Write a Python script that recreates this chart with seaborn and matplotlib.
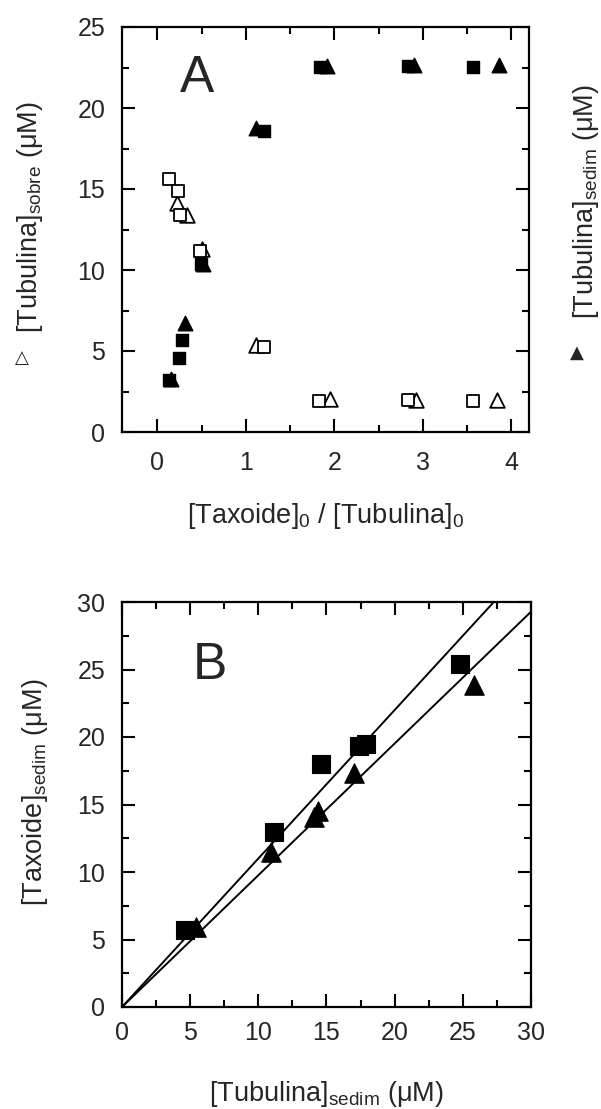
import numpy as np
import pandas as pd
import matplotlib
matplotlib.use("Agg")
import matplotlib.pyplot as plt
import seaborn as sns

# ---------------- Data (panel A) ----------------
# open squares: [Tubulina]_sobre, square series
a_open_sq_x = [0.13, 0.23, 0.26, 0.48, 1.20, 1.83, 2.83, 3.57]
a_open_sq_y = [15.6, 14.9, 13.4, 11.2, 5.25, 1.9, 1.95, 1.9]
# open triangles: [Tubulina]_sobre, triangle series
a_open_tr_x = [0.225, 0.33, 0.505, 1.12, 1.95, 2.92, 3.84]
a_open_tr_y = [14.15, 13.4, 11.3, 5.35, 2.05, 1.95, 1.95]
# filled squares: [Tubulina]_sedim, square series
a_fill_sq_x = [0.13, 0.24, 0.28, 0.49, 1.20, 1.84, 2.83, 3.57]
a_fill_sq_y = [3.2, 4.55, 5.7, 10.4, 18.6, 22.55, 22.6, 22.55]
# filled triangles: [Tubulina]_sedim, triangle series
a_fill_tr_x = [0.15, 0.31, 0.52, 1.12, 1.92, 2.895, 3.86]
a_fill_tr_y = [3.3, 6.7, 10.4, 18.75, 22.6, 22.65, 22.65]

# ---------------- Data (panel B) ----------------
b_sq_x = [4.65, 11.15, 14.6, 17.4, 17.9, 24.8]
b_sq_y = [5.7, 13.0, 18.0, 19.3, 19.5, 25.4]
b_tr_x = [5.4, 10.9, 14.1, 14.4, 17.0, 25.8]
b_tr_y = [5.95, 11.45, 14.1, 14.5, 17.3, 23.85]
b_line_slopes = [1.10, 0.976]
b_line_x = [0, 30]

# ---------------- Style ----------------
sns.set_style("ticks")
plt.rcParams["font.family"] = ["Liberation Sans", "DejaVu Sans"]
plt.rcParams["mathtext.fontset"] = "custom"
plt.rcParams["mathtext.rm"] = "Liberation Sans"
plt.rcParams["mathtext.it"] = "Liberation Sans:italic"
plt.rcParams["axes.linewidth"] = 1.6

W, H = 601, 1109
fig = plt.figure(figsize=(W / 100, H / 100), dpi=100)

def px_axes(l, t, r, b):
    return [l / W, 1 - b / H, (r - l) / W, (b - t) / H]

axA = fig.add_axes(px_axes(122, 27, 529, 432))
axB = fig.add_axes(px_axes(122, 602, 531, 1007))

TICK_FS = 18
LAB_FS = 19.5

def style_axes(ax, xpad, ypad):
    for s in ax.spines.values():
        s.set_visible(True)
        s.set_color("black")
        s.set_linewidth(1.6)
    ax.tick_params(which="both", direction="in", top=True, right=True,
                   color="black", width=1.5)
    ax.tick_params(which="major", length=9.5)
    ax.tick_params(which="minor", length=5)
    ax.tick_params(axis="x", which="major", pad=xpad, labelsize=TICK_FS)
    ax.tick_params(axis="y", which="major", pad=ypad, labelsize=TICK_FS)

# ---------------- Panel A ----------------
msA_sq = 9.0
msA_tr = 10.5
sns.scatterplot(x=a_open_sq_x, y=a_open_sq_y, ax=axA, marker="s", s=msA_sq**2,
                facecolor="white", edgecolor="black", linewidth=1.3, zorder=3)
sns.scatterplot(x=a_open_tr_x, y=a_open_tr_y, ax=axA, marker="^", s=msA_tr**2,
                facecolor="white", edgecolor="black", linewidth=1.3, zorder=2)
sns.scatterplot(x=a_fill_sq_x, y=a_fill_sq_y, ax=axA, marker="s", s=msA_sq**2,
                color="black", edgecolor="black", linewidth=1.0, zorder=3)
sns.scatterplot(x=a_fill_tr_x, y=a_fill_tr_y, ax=axA, marker="^", s=msA_tr**2,
                color="black", edgecolor="black", linewidth=1.0, zorder=2)

axA.set_xlim(-0.4, 4.2)
axA.set_ylim(0, 25)
axA.set_xticks([0, 1, 2, 3, 4])
axA.set_xticks(np.arange(0, 4.01, 0.5), minor=True)
axA.set_yticks(np.arange(0, 26, 5))
axA.set_yticks(np.arange(0, 25.1, 2.5), minor=True)
style_axes(axA, xpad=14, ypad=12)
axA.set_xlabel("[Taxoide]$_0$ / [Tubulina]$_0$", fontsize=LAB_FS)
axA.xaxis.set_label_coords(0.5, -0.17)
axA.set_ylabel("[Tubulina]$_{\\mathrm{sobre}}$ (\u03bcM)", fontsize=LAB_FS)
axA.yaxis.set_label_coords(-0.189, 0.53)
axA.text(0.184, 0.874, "A", transform=axA.transAxes, fontsize=37,
         ha="center", va="center")
# right-side label with filled triangle
axA.text(1.102, 0.57, "[Tubulina]$_{\\mathrm{sedim}}$ (\u03bcM)", transform=axA.transAxes,
         rotation=90, ha="left", va="center", fontsize=LAB_FS)
fig.text(22 / W, 1 - 358 / H, "\u25b3", fontsize=13, ha="center", va="center",
         family=["DejaVu Sans"])
fig.text(577 / W, 1 - 353 / H, "\u25b2", fontsize=13, ha="center", va="center",
         family=["DejaVu Sans"])

# ---------------- Panel B ----------------
for k in b_line_slopes:
    ys = [k * xv for xv in b_line_x]
    sns.lineplot(x=b_line_x, y=ys, ax=axB, color="black", linewidth=1.4, zorder=1)
msB = 12.5
sns.scatterplot(x=b_sq_x, y=b_sq_y, ax=axB, marker="s", s=msB**2,
                color="black", edgecolor="black", linewidth=0.8, zorder=3)
sns.scatterplot(x=b_tr_x, y=b_tr_y, ax=axB, marker="^", s=(msB + 1.5)**2,
                color="black", edgecolor="black", linewidth=0.8, zorder=3)

axB.set_xlim(0, 30)
axB.set_ylim(0, 30)
axB.set_xticks(np.arange(0, 31, 5))
axB.set_xticks(np.arange(0, 30.1, 2.5), minor=True)
axB.set_yticks(np.arange(0, 31, 5))
axB.set_yticks(np.arange(0, 30.1, 2.5), minor=True)
style_axes(axB, xpad=10, ypad=12)
axB.set_xlabel("[Tubulina]$_{\\mathrm{sedim}}$ (\u03bcM)", fontsize=LAB_FS)
axB.xaxis.set_label_coords(0.5, -0.178)
axB.set_ylabel("[Taxoide]$_{\\mathrm{sedim}}$ (\u03bcM)", fontsize=LAB_FS)
axB.yaxis.set_label_coords(-0.176, 0.53)
axB.text(0.215, 0.844, "B", transform=axB.transAxes, fontsize=37,
         ha="center", va="center")

fig.savefig("out.png", dpi=100)
